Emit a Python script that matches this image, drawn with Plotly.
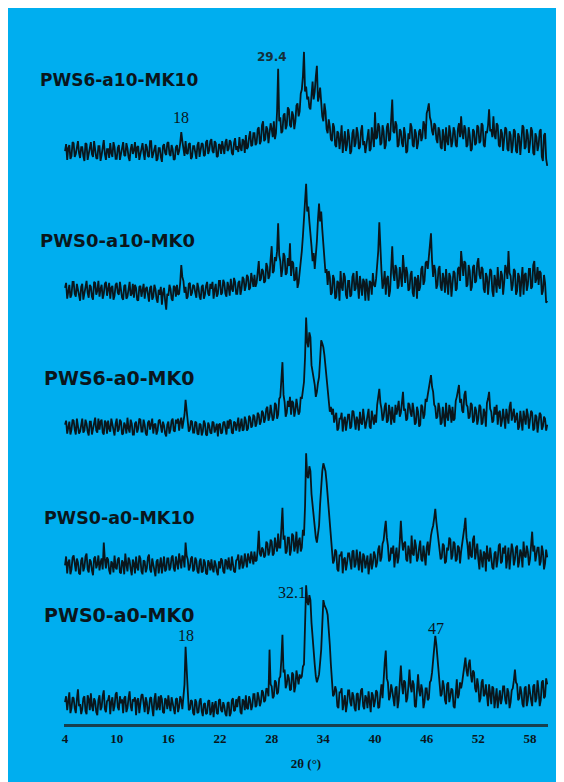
import plotly.graph_objects as go

# 2-theta sampling (degrees), 0.125 deg step from 4 to 60
two_theta = [4 + 0.125 * i for i in range(449)]

sample_names = ["PWS6-a10-MK10", "PWS0-a10-MK0", "PWS6-a0-MK0", "PWS0-a0-MK10", "PWS0-a0-MK0"]
stack_offsets = [578, 437, 300, 160, 20]

# intensities (arbitrary units), one row per degree (8 samples per degree)
pws6_a10_mk10 = [
    0, 7, -9, 3, 6, -8, -5, 9,
    8, -6, -3, 5, 10, -2, -7, 4,
    4, -5, -10, 8, 7, -9, -2, 6,
    9, -3, -6, 10, 3, -7, -8, 5,
    5, -10, -4, 7, 11, -3, -9, 2,
    2, -7, 8, -2, -6, 9, 4, -8,
    -8, 3, 6, -9, -2, 5, 9, -4,
    -5, 8, 3, -6, -10, 2, 7, -3,
    1, 9, -7, 4, 5, -9, -3, 6,
    8, -2, -9, 7, 4, -5, -6, 10,
    10, -7, -2, 4, 6, -10, -8, 3,
    3, -6, -11, 5, 7, -2, -4, 8,
    9, -3, -5, 6, 2, -9, -8, 4,
    6, -4, 0, 8, 19, 10, 4, -5,
    10, -2, -3, 7, 8, -8, -6, 5,
    5, -4, -8, 6, 9, -6, 0, 8,
    7, -5, -4, 9, 11, -3, 1, 10,
    12, 0, -2, 10, 8, -6, -5, 7,
    6, -3, 10, 1, -3, 9, 12, 0,
    2, 11, 9, -2, -4, 8, 13, 1,
    5, -1, 14, 3, 0, 12, 10, -2,
    16, 2, 4, 14, 20, 5, 6, 18,
    18, 6, 8, 22, 24, 7, 10, 26,
    30, 10, 12, 25, 22, 8, 16, 28,
    22, 14, 30, 12, 18, 40, 83, 30,
    34, 18, 20, 36, 38, 22, 26, 44,
    42, 26, 24, 40, 36, 22, 30, 46,
    48, 35, 40, 58, 62, 75, 100, 60,
    65, 52, 55, 44, 42, 60, 70, 52,
    60, 75, 86, 50, 55, 64, 45, 35,
    30, 48, 40, 22, 18, 32, 25, 12,
    10, 28, 24, 6, 4, 20, 18, 2,
    12, 26, -2, 14, 20, 0, 6, 22,
    14, -3, 0, 18, 22, 4, 8, 24,
    18, 2, 4, 20, 26, 6, 10, -2,
    6, 18, 22, 0, 2, 24, 16, 4,
    39, 12, 14, 28, 24, 6, 8, 26,
    20, 2, 6, 24, 28, 10, 12, 30,
    52, 20, 18, 30, 26, 4, 6, 22,
    20, 8, 4, 24, 16, -2, 0, 18,
    12, 28, 24, 6, 4, 22, 18, 2,
    8, 20, 22, 10, 14, 30, 26, 12,
    38, 42, 48, 34, 30, 20, 16, 28,
    26, 12, 8, 24, 20, 4, 2, 22,
    14, 0, 24, 10, 6, 26, 18, 4,
    10, 24, 20, 6, 4, 22, 28, 14,
    35, 18, 12, 26, 22, 4, 6, 24,
    16, 0, 2, 22, 20, 6, 8, 26,
    24, 8, 10, 28, 26, 6, 4, 20,
    18, 26, 42, 20, 22, 14, 35, 16,
    12, 28, 26, 6, 4, 22, 18, 0,
    10, 24, 22, 2, 0, 20, 16, -2,
    6, 22, 20, 0, -2, 18, 14, -4,
    10, 26, 24, 2, 4, 22, 16, -2,
    8, 24, 20, -2, -4, 18, 14, 0,
    6, 20, 22, -6, -10, 16, 18, -8,
    -15,
]

pws0_a10_mk0 = [
    3, 8, -8, 2, 6, -7, -4, 9,
    9, -3, -6, 7, 2, -5, -10, 4,
    7, -9, -3, 5, 10, -2, -7, 6,
    4, -6, -9, 9, 8, -4, 0, 10,
    -6, 2, 6, -8, -3, 7, 9, -5,
    2, 8, -8, 3, 5, -9, -5, 6,
    8, -2, -4, 9, 1, -7, -9, 5,
    6, -8, -6, 4, 9, -5, -3, 7,
    -7, 6, 3, -9, -10, 4, 5, -6,
    1, 7, -8, 2, 4, -6, -11, 3,
    5, -9, -6, 6, 2, -8, -12, 1,
    -4, 4, -14, -2, 3, -10, -19, -3,
    -5, 6, 2, -8, -10, 5, 4, -6,
    6, -4, -3, 8, 26, 14, 10, -2,
    4, -8, -6, 7, 8, -5, -2, 6,
    5, -2, -7, 8, 3, -6, -9, 4,
    6, -8, -4, 5, 9, -3, -5, 7,
    2, 9, -8, 1, 7, -6, -3, 10,
    10, -4, -2, 11, 8, -3, -6, 9,
    4, -5, 12, 2, -1, 13, 9, -3,
    -3, 8, 10, -4, 2, 14, 12, 0,
    5, 16, 14, 1, 3, 18, 10, 4,
    16, 4, 8, 20, 30, 10, 12, 22,
    20, 8, 10, 28, 24, 12, 15, 32,
    45, 18, 20, 34, 30, 40, 68, 36,
    30, 14, 22, 38, 35, 16, 18, 33,
    25, 48, 15, 30, 28, 10, 12, 24,
    3, 8, 18, 30, 40, 55, 75, 92,
    108, 80, 85, 70, 60, 45, 30, 38,
    22, 35, 50, 72, 88, 70, 80, 62,
    45, 30, 18, 22, 6, 20, 14, -4,
    -2, 16, 12, -8, -6, 10, 8, -10,
    20, 4, 0, 18, 14, -4, -8, 10,
    10, -6, -4, 14, 18, 0, 2, 20,
    6, -8, 15, 4, -5, 12, 9, -10,
    12, 2, -10, 10, 8, -4, 18, 6,
    4, 12, 25, 40, 69, 35, 20, 2,
    8, 20, -4, 12, 15, -6, 0, 22,
    45, 18, 10, 26, 22, 2, 5, 24,
    14, 4, 36, 16, 8, 24, 18, 0,
    2, 16, 20, -2, -6, 14, 12, -8,
    16, 0, 4, 22, 25, 6, 10, 28,
    30, 22, 35, 45, 58, 30, 14, 26,
    20, 2, 6, 22, 25, 4, 0, 18,
    12, -2, 22, 8, -4, 18, 14, -6,
    8, 20, 18, 0, 2, 22, 24, 10,
    40, 22, 15, 30, 28, 4, 6, 26,
    20, 0, 4, 24, 26, 8, 10, 28,
    33, 16, 12, 24, 22, 2, -2, 18,
    14, -4, 6, 22, 20, 0, -6, 16,
    10, -2, 24, 6, 2, 20, 16, -4,
    8, 26, 22, 12, 40, 18, 15, 0,
    6, 22, 20, -4, 0, 18, 14, -6,
    10, 24, -4, 16, 18, 0, 6, 22,
    22, 2, 4, 26, 30, 8, 12, 24,
    6, 20, 18, -4, 0, 16, 8, -12,
    -10,
]

pws6_a0_mk0 = [
    2, 6, -7, 1, 5, -8, -3, 7,
    6, -3, -8, 8, 1, -7, -5, 4,
    8, -6, -4, 7, 3, -5, -9, 5,
    5, -8, -2, 6, 9, -4, -6, 8,
    -3, 5, 7, -6, -8, 6, 4, -7,
    6, -2, -5, 8, 2, -6, -9, 3,
    8, -5, -3, 7, 5, -8, -7, 4,
    1, -7, 9, -2, -6, 7, 3, -8,
    -8, 3, 5, -6, -2, 8, 7, -5,
    -5, 7, 2, -7, -9, 4, 6, -3,
    4, 8, -7, 2, 3, -8, -4, 6,
    7, -3, -6, 5, 1, -7, -10, 2,
    5, -7, -3, 6, 8, -4, -5, 7,
    3, 8, -4, 5, 9, -2, 6, 12,
    27, 14, 8, -5, -3, 6, 5, -6,
    -6, 5, 4, -7, -8, 3, 2, -9,
    -5, 6, 3, -8, -9, 4, 1, -6,
    -7, 5, 4, -6, -2, 3, -10, 2,
    3, -7, -6, 4, 5, -5, -8, 6,
    -2, 7, 6, -6, -7, 5, 4, -4,
    2, 9, -5, 3, 8, -4, -3, 10,
    6, -4, -2, 11, 9, -1, 1, 12,
    10, 0, 3, 14, 12, 2, 5, 16,
    14, 4, 8, 18, 20, 6, 10, 22,
    16, 6, 9, 24, 22, 8, 12, 28,
    30, 45, 65, 32, 25, 10, 14, 26,
    20, 30, 12, 26, 24, 10, 16, 28,
    22, 12, 15, 30, 28, 35, 45, 70,
    110, 85, 80, 95, 90, 62, 55, 45,
    42, 30, 35, 44, 50, 68, 87, 84,
    80, 72, 60, 48, 35, 24, 15, 20,
    12, 18, 4, 10, 14, -4, -2, 8,
    8, 14, -5, 6, 10, -4, 2, 12,
    12, -2, 0, 16, 15, 2, -3, 10,
    6, -4, 15, 4, 2, 18, 10, -2,
    4, 14, 18, 0, -2, 16, 9, 2,
    12, 4, 22, 30, 38, 24, 18, 6,
    10, 20, 24, 4, 6, 22, 15, 2,
    20, 8, 4, 22, 12, 18, 26, 10,
    14, 24, 35, 16, 18, 6, 8, 24,
    22, 14, 10, 24, 16, 2, 4, 20,
    15, 0, 2, 22, 20, 8, 12, 28,
    25, 32, 38, 46, 52, 40, 35, 22,
    20, 8, 10, 24, 18, 2, 4, 20,
    12, 0, 24, 10, 6, 22, 16, 4,
    20, 6, 8, 26, 30, 36, 42, 24,
    28, 16, 14, 32, 36, 22, 20, 8,
    10, 24, 22, 4, 6, 20, 16, 2,
    8, 22, 20, 2, 4, 18, 14, 0,
    24, 28, 35, 18, 15, 4, 6, 20,
    12, 22, 2, 14, 16, 0, 6, 18,
    10, -2, 18, 8, 3, 20, 25, 6,
    12, 18, 4, 10, 14, -3, 0, 16,
    8, -4, 16, 6, 2, 18, 12, -2,
    6, 16, 14, -4, -2, 12, 10, -6,
    4, 14, 12, -3, 0, 10, 8, -4,
    2,
]

pws0_a0_mk10 = [
    0, 9, -8, 3, 6, -9, -4, 8,
    10, -2, -6, 7, 3, -8, -9, 5,
    8, -6, -2, 9, 12, -4, -7, 6,
    4, -5, -10, 7, 9, -3, 1, 10,
    -5, 3, 7, -4, 23, 6, -3, 8,
    6, -5, -9, 4, 2, -7, 10, -2,
    -4, 6, 8, -7, -8, 5, 3, -9,
    12, 1, -6, 8, 5, -4, -10, 6,
    2, -8, 9, -2, -5, 10, 7, -6,
    -9, 5, 4, -7, -3, 8, 11, -4,
    -7, 7, 2, -5, -11, 4, 6, -8,
    3, 8, -8, 2, 9, -6, -4, 7,
    7, -5, -2, 8, 10, -3, -6, 9,
    4, -4, 12, 2, -3, 10, 8, -2,
    23, 10, 6, -5, -2, 7, 9, -6,
    -4, 8, 5, -6, -8, 4, 7, -7,
    -6, 6, 3, -8, -9, 5, 2, -5,
    6, -3, -7, 5, 1, -6, -10, 4,
    -3, 7, 5, -6, -8, 6, 4, -4,
    8, -2, -5, 9, 2, -6, -7, 5,
    6, 11, -4, 3, 10, -3, 0, 12,
    4, -2, 12, 5, 2, 14, 8, 1,
    14, 4, 5, 16, 35, 12, 9, 18,
    16, 8, 10, 24, 22, 10, 14, 26,
    24, 10, 12, 28, 20, 14, 32, 18,
    18, 40, 58, 26, 30, 12, 14, 28,
    28, 10, 16, 32, 30, 14, 20, 34,
    12, 24, 28, 14, 18, 36, 30, 60,
    113, 90, 88, 100, 95, 72, 60, 45,
    35, 28, 23, 32, 40, 62, 80, 95,
    103, 100, 95, 84, 70, 50, 35, 22,
    15, 2, 5, 16, 14, -4, -6, 10,
    10, 14, -8, 6, 8, -5, 2, 12,
    12, 0, -4, 14, 15, -2, 1, 16,
    6, -5, 14, 2, -7, 12, 9, -3,
    5, 10, -9, 6, 12, -4, 2, 14,
    10, -2, 3, 16, 20, 4, 8, 22,
    25, 36, 45, 28, 20, 4, 6, 18,
    12, 20, -2, 10, 18, 2, 8, 24,
    45, 26, 15, 22, 24, 6, 4, 20,
    14, 2, 30, 12, 10, 26, 20, 4,
    8, 18, 25, 6, 4, 20, 12, 0,
    18, 24, 10, 22, 30, 36, 40, 48,
    57, 44, 35, 24, 18, 6, 8, 22,
    20, 2, 4, 18, 15, 28, 26, 6,
    10, 24, 22, 4, 6, 20, 18, 2,
    14, 26, 30, 38, 48, 28, 20, 6,
    24, 10, 8, 26, 30, 6, 12, 22,
    6, -4, 16, 4, -2, 14, 12, -6,
    20, 8, 4, 18, 10, -2, -4, 12,
    14, -2, 6, 20, 22, 2, 4, 18,
    12, 20, -3, 6, 18, -4, 8, 22,
    16, 0, 6, 18, 20, -2, 4, 16,
    12, -2, 24, 10, 8, 20, 14, 0,
    6, 22, 34, 14, 20, 4, 10, 18,
    18, 0, 4, 20, 14, -4, 2, 16,
    8,
]

pws0_a0_mk0 = [
    2, 8, -6, 4, 12, -9, -4, 7,
    6, -4, -9, 5, 15, -2, 0, -10,
    -5, 6, 8, -7, -10, 9, 5, -6,
    11, -2, -7, 6, 3, -8, -11, 4,
    9, -6, -3, 8, 14, -5, -8, 3,
    4, 9, -10, 2, 7, -7, -2, 10,
    12, -3, -6, 8, 1, 5, -9, 6,
    8, -8, -4, 6, 13, -2, -7, 5,
    3, 7, -11, 4, 6, -9, -1, 9,
    10, -2, -8, 7, 2, -10, -5, 6,
    7, -4, -12, 5, 11, -6, -3, 8,
    -6, 9, 5, -8, -9, 6, 4, -5,
    9, -1, -7, 7, 2, -6, -10, 5,
    6, -8, -3, 8, 4, -5, 12, 20,
    58, 30, 14, -6, -5, 4, 3, -9,
    -11, 5, 2, -9, -8, 3, 6, -7,
    -12, 0, 1, -10, -9, 3, 4, -11,
    -7, 2, -13, -1, 3, -9, -10, 4,
    5, -6, -8, 2, -2, -10, -12, 1,
    2, -12, -9, 4, 6, -7, -6, 5,
    -3, 6, 8, -8, -10, 5, 3, -6,
    9, -4, -5, 8, 4, -6, -2, 10,
    10, -3, -1, 12, 7, -2, 2, 14,
    12, 2, 4, 16, 15, 8, 55, 20,
    18, 6, 8, 24, 22, 10, 12, 26,
    28, 45, 70, 32, 35, 16, 20, 30,
    26, 14, 15, 32, 30, 12, 18, 34,
    24, 20, 30, 26, 28, 38, 40, 75,
    120, 104, 100, 110, 105, 82, 65, 52,
    40, 28, 22, 26, 30, 42, 55, 80,
    105, 100, 98, 95, 90, 78, 60, 40,
    25, 8, 10, 18, 14, -2, -4, 12,
    12, 16, -6, 4, 9, -8, 0, 14,
    14, 2, -2, 12, 8, -4, -7, 10,
    11, -6, 4, 14, 16, -2, -5, 9,
    6, -4, 13, 2, -8, 12, 9, -3,
    3, 14, 12, -4, -3, 10, 20, 6,
    30, 42, 54, 26, 22, 4, 8, 20,
    14, 2, -2, 16, 18, -4, 4, 22,
    39, 20, 10, 24, 22, 2, 6, 18,
    35, 18, 12, 24, 20, -2, -3, 14,
    30, 14, 8, 20, 14, -4, 2, 16,
    16, 4, 6, 22, 24, 32, 45, 58,
    69, 60, 48, 30, 22, 8, 10, 24,
    18, 4, 0, 20, 22, 2, 8, 16,
    14, -2, -4, 18, 25, 6, 10, 22,
    16, 22, 30, 36, 47, 34, 28, 40,
    45, 30, 22, 34, 32, 16, 12, 26,
    18, 2, 6, 22, 25, 8, 10, 20,
    8, -2, 20, 6, 0, 18, 16, -4,
    10, 16, -4, 4, 14, 0, 6, 18,
    18, 4, 0, 16, 12, -4, 2, 14,
    16, 24, 35, 22, 20, 4, 6, 18,
    12, 0, -3, 16, 18, -2, 4, 20,
    10, 4, -2, 18, 20, 2, 6, 24,
    14, -2, 4, 22, 24, 6, 8, 26,
    20,
]

series = [pws6_a10_mk10, pws0_a10_mk0, pws6_a0_mk0, pws0_a0_mk10, pws0_a0_mk0]

tick_vals = [4, 10, 16, 22, 28, 34, 40, 46, 52, 58]
tick_text = [str(v) for v in tick_vals]

# peak annotations: (2theta, stacked height, text)
peak_labels_x = [28.05, 17.45, 30.35, 18.05, 47.1]
peak_labels_y = [673, 612, 133, 89, 96]
peak_labels_text = ["29.4", "18", "32.1", "18", "47"]
peak_labels_sans = [True, False, False, False, False]

# sample label anchors (left edge in paper units, height in stacked units)
label_x = [-0.054, -0.054, -0.046, -0.046, -0.046]
label_y = [650, 488, 349, 208, 110]
label_size = [17, 18, 19, 17.5, 19]

BLUE = "#00aeef"
INK = "#0a161c"

fig = go.Figure()
for name, vals, off in zip(sample_names, series, stack_offsets):
    fig.add_trace(go.Scatter(
        x=two_theta, y=[v + off for v in vals], mode="lines",
        line=dict(color=INK, width=1.8), name=name, showlegend=False,
        hoverinfo="skip",
    ))

for x, y, t, s in zip(label_x, label_y, sample_names, label_size):
    fig.add_annotation(x=x, y=y, xref="paper", yref="y", text="<b>" + t + "</b>",
                       showarrow=False, xanchor="left", yanchor="middle",
                       font=dict(family="DejaVu Sans", size=s, color=INK))

for x, y, t, sans in zip(peak_labels_x, peak_labels_y, peak_labels_text, peak_labels_sans):
    if sans:
        f = dict(family="DejaVu Sans", size=12, color="#14303a", weight="bold")
    else:
        f = dict(family="Liberation Serif", size=16, color=INK)
    fig.add_annotation(x=x, y=y, xref="x", yref="y", text=t, showarrow=False,
                       xanchor="center", yanchor="middle", font=f)

fig.update_layout(
    width=556, height=774,
    margin=dict(l=56, r=16, t=32, b=52),
    paper_bgcolor=BLUE, plot_bgcolor=BLUE,
    xaxis=dict(range=[3.88, 60.09], showgrid=False, zeroline=False,
               showline=True, linecolor="#17404e", linewidth=3,
               tickmode="array", tickvals=tick_vals, ticktext=tick_text,
               ticks="", tickfont=dict(family="Liberation Serif", size=13, color=INK, weight="bold"),
               title=dict(text="2θ (°)", standoff=15,
                          font=dict(family="Liberation Serif", size=13, color=INK, weight="bold"))),
    yaxis=dict(range=[0, 690], visible=False),
)

fig.write_html("out.html")
